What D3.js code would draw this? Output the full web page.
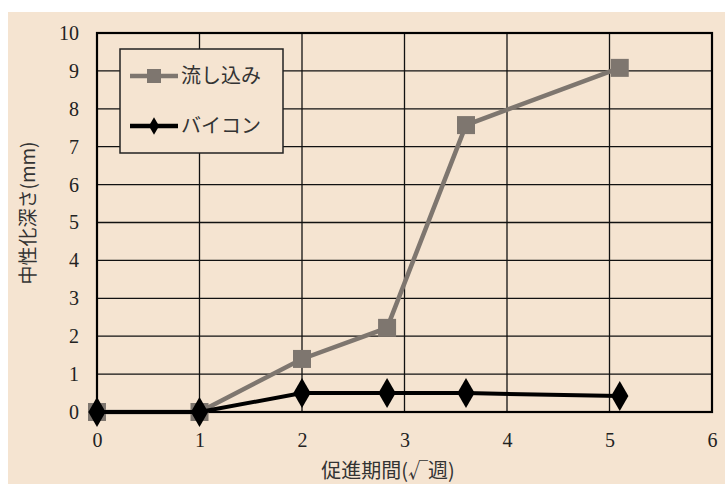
<!DOCTYPE html>
<html>
<head>
<meta charset="utf-8">
<script src="https://cdn.jsdelivr.net/npm/d3@7"></script>
<style>
  body { margin: 0; background: #fff; }
  svg { display: block; }
</style>
</head>
<body>
<div id="chart"></div>
<script>
// data
var seriesNames = ['流し込み', 'バイコン'];
var nagashikomiX = [0, 1, 2, 2.83, 3.6, 5.1];
var nagashikomiY = [0, 0, 1.4, 2.22, 7.57, 9.08];
var baikonX = [0, 1, 2, 2.83, 3.6, 5.1];
var baikonY = [0, 0, 0.5, 0.5, 0.5, 0.42];
var xTicks = [0, 1, 2, 3, 4, 5, 6];
var yTicks = [0, 1, 2, 3, 4, 5, 6, 7, 8, 9, 10];
var xTitle = '促進期間(√週)';
var yTitle = '中性化深さ(mm)';

var width = 725, height = 484;
var margin = { top: 33, right: 13, bottom: 72, left: 97 };
var plotW = width - margin.left - margin.right,
    plotH = height - margin.top - margin.bottom;

var grayColor = '#7e766f';
var bg = '#f5e4d1';

var svg = d3.select('#chart')
    .append('svg')
    .attr('width', width)
    .attr('height', height);

svg.append('rect')
    .attr('x', 8).attr('y', 12)
    .attr('width', width - 8).attr('height', height - 12)
    .attr('fill', bg);

var g = svg.append('g')
    .attr('transform', 'translate(' + margin.left + ',' + margin.top + ')');

var xScale = d3.scaleLinear().domain([0, 6]).range([0, plotW]);
var yScale = d3.scaleLinear().domain([0, 10]).range([plotH, 0]);

// grid
g.selectAll('.hgrid')
    .data(yTicks)
    .enter().append('line')
    .attr('class', 'hgrid')
    .attr('x1', 0).attr('x2', plotW)
    .attr('y1', function(d) { return yScale(d); })
    .attr('y2', function(d) { return yScale(d); })
    .attr('stroke', '#111').attr('stroke-width', 1.3);

g.selectAll('.vgrid')
    .data(xTicks)
    .enter().append('line')
    .attr('class', 'vgrid')
    .attr('y1', 0).attr('y2', plotH)
    .attr('x1', function(d) { return xScale(d); })
    .attr('x2', function(d) { return xScale(d); })
    .attr('stroke', '#111').attr('stroke-width', 1.3);

g.append('rect')
    .attr('width', plotW).attr('height', plotH)
    .attr('fill', 'none').attr('stroke', '#000').attr('stroke-width', 2.2);

// axes (labels only)
var xAxis = d3.axisBottom(xScale).tickValues(xTicks).tickSize(0).tickPadding(20).tickFormat(d3.format('d'));
var yAxis = d3.axisLeft(yScale).tickValues(yTicks).tickSize(0).tickPadding(18).tickFormat(d3.format('d'));

var xg = g.append('g').attr('transform', 'translate(0,' + plotH + ')').call(xAxis);
var yg = g.append('g').call(yAxis);
[xg, yg].forEach(function(a) {
    a.select('.domain').remove();
    a.selectAll('text')
        .attr('font-family', '"Liberation Serif", "DejaVu Serif", serif')
        .attr('font-size', 20)
        .attr('fill', '#222');
});
xg.selectAll('text').attr('dy', '0.75em');

// lines
var line = d3.line()
    .x(function(d) { return xScale(d[0]); })
    .y(function(d) { return yScale(d[1]); });

var grayData = d3.zip(nagashikomiX, nagashikomiY);
var blackData = d3.zip(baikonX, baikonY);

g.append('path').datum(grayData)
    .attr('d', line).attr('fill', 'none')
    .attr('stroke', grayColor).attr('stroke-width', 4.5);

g.selectAll('.sq').data(grayData)
    .enter().append('rect')
    .attr('class', 'sq')
    .attr('x', function(d) { return xScale(d[0]) - 9; })
    .attr('y', function(d) { return yScale(d[1]) - 9; })
    .attr('width', 18).attr('height', 18)
    .attr('fill', grayColor);

g.append('path').datum(blackData)
    .attr('d', line).attr('fill', 'none')
    .attr('stroke', '#000').attr('stroke-width', 4);

var diamond = d3.symbol().type(d3.symbolDiamond).size(260);
g.selectAll('.dm').data(blackData)
    .enter().append('path')
    .attr('class', 'dm')
    .attr('d', diamond)
    .attr('transform', function(d) { return 'translate(' + xScale(d[0]) + ',' + yScale(d[1]) + ')'; })
    .attr('fill', '#000');

// legend
var legend = svg.append('g').attr('transform', 'translate(120,49)');
legend.append('rect')
    .attr('width', 163).attr('height', 104)
    .attr('fill', bg).attr('stroke', '#222').attr('stroke-width', 1.5);

var legendItems = [
    { name: seriesNames[0], color: grayColor, shape: 'square', y: 27 },
    { name: seriesNames[1], color: '#000', shape: 'diamond', y: 77 }
];
legendItems.forEach(function(it) {
    legend.append('line')
        .attr('x1', 10).attr('x2', 58)
        .attr('y1', it.y).attr('y2', it.y)
        .attr('stroke', it.color).attr('stroke-width', 4.5);
    if (it.shape === 'square') {
        legend.append('rect')
            .attr('x', 27).attr('y', it.y - 7)
            .attr('width', 14).attr('height', 14)
            .attr('fill', it.color);
    } else {
        legend.append('path')
            .attr('d', d3.symbol().type(d3.symbolDiamond).size(90))
            .attr('transform', 'translate(34,' + it.y + ')')
            .attr('fill', it.color);
    }
    legend.append('text')
        .attr('x', 61).attr('y', it.y)
        .attr('dy', '0.36em')
        .attr('font-family', '"Noto Sans CJK JP", sans-serif')
        .attr('font-size', 20)
        .attr('fill', '#333')
        .text(it.name);
});

// titles
svg.append('text')
    .attr('x', 388).attr('y', 478)
    .attr('text-anchor', 'middle')
    .attr('font-family', '"Noto Sans CJK JP", sans-serif')
    .attr('font-size', 20)
    .attr('fill', '#333')
    .text(xTitle);

svg.append('text')
    .attr('transform', 'translate(35,213) rotate(-90)')
    .attr('text-anchor', 'middle')
    .attr('font-family', '"Noto Sans CJK JP", sans-serif')
    .attr('font-size', 19)
    .attr('fill', '#333')
    .text(yTitle);
</script>
</body>
</html>
